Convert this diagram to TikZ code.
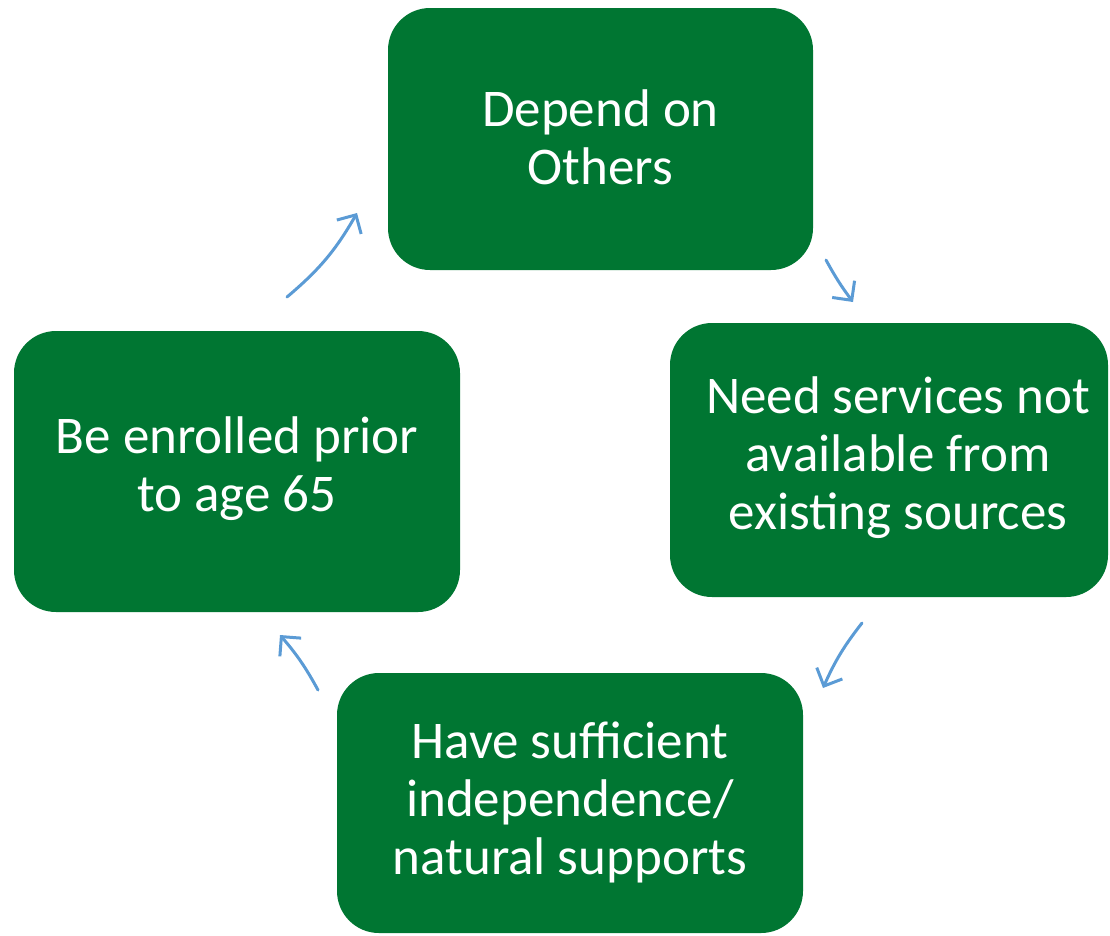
\documentclass[tikz,border=0pt]{standalone}
\usepackage{fontspec}
\setmainfont{Carlito}
\usetikzlibrary{arrows.meta}
\definecolor{boxgreen}{RGB}{0,118,50}
\definecolor{arrblue}{RGB}{91,155,213}
\begin{document}
\begin{tikzpicture}[x=1pt,y=-1pt,
  box/.style={draw=none,fill=boxgreen,rounded corners=42pt,inner sep=0pt},
  txt/.style={text=white,align=center,font=\fontsize{53}{58}\selectfont,inner sep=0pt},
  cyc/.style={draw=arrblue,line width=3pt,line cap=round,
    -{Straight Barb[length=14pt,width=28pt,line width=3pt]}}]
\useasboundingbox (0,0) rectangle (1110,935);
% boxes
\node[box,minimum width=425pt,minimum height=262pt] (top) at (600.5,139) {};
\node[txt] (toptext) at (600.5,137) {Depend on\\Others};
\node[box,minimum width=438pt,minimum height=274pt] (right) at (889,460) {};
\node[txt] (righttext) at (898,458) {Need services not\\available from\\existing sources};
\node[box,minimum width=466pt,minimum height=260pt] (bottom) at (570,803) {};
\node[txt] (bottomtext) at (570,802) {Have sufficient\\independence/\\natural supports};
\node[box,minimum width=446pt,minimum height=281pt] (left) at (237,471.5) {};
\node[txt] (lefttext) at (237,469) {Be enrolled prior\\to age 65};
% arrow ends
\coordinate (a1s) at (287,297);
\coordinate (a1e) at (357,213);
\coordinate (a2s) at (826,260);
\coordinate (a2e) at (853,302);
\coordinate (a3s) at (862,623);
\coordinate (a3e) at (823,688);
\coordinate (a4s) at (318,690);
\coordinate (a4e) at (280,635);
\draw[cyc] (a1s) to[bend right=10] (a1e);
\draw[cyc] (a2s) to[bend right=4] (a2e);
\draw[cyc] (a3s) to[bend right=7] (a3e);
\draw[cyc] (a4s) to[bend right=6] (a4e);
\end{tikzpicture}
\end{document}
